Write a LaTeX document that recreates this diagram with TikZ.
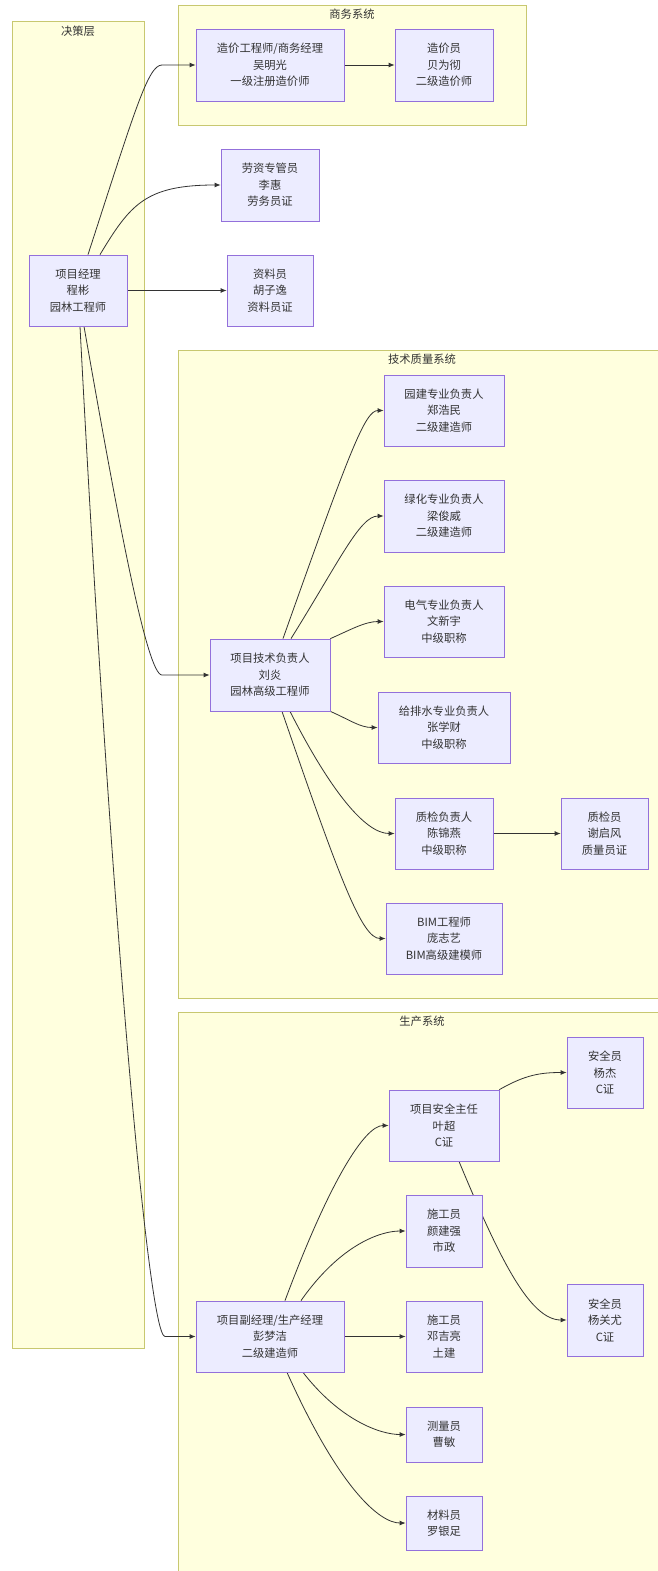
\documentclass[tikz,border=0pt]{standalone}
\usepackage{fontspec}
\newfontfamily\cjk{Noto Sans CJK SC}
\usetikzlibrary{arrows.meta}
\pgfdeclarelayer{bg}
\pgfdeclarelayer{edgelayer}
\pgfsetlayers{bg,edgelayer,main}
\definecolor{clfill}{HTML}{FFFFDE}
\definecolor{clline}{HTML}{C8C870}
\definecolor{nfill}{HTML}{ECECFF}
\definecolor{nline}{HTML}{9370DB}
\definecolor{ink}{HTML}{333333}
\begin{document}
\begin{tikzpicture}[x=1pt,y=-1pt,
 box/.style={draw=nline, fill=nfill, line width=0.8pt, align=center, font=\cjk\fontsize{11.3}{16.5}\selectfont, text=ink, inner sep=0pt},
 cluster/.style={draw=clline, fill=clfill, line width=0.9pt},
 cltitle/.style={font=\cjk\fontsize{11.3}{14}\selectfont, text=ink},
 edge/.style={draw=ink, line width=0.8pt, -{Latex[length=6pt,width=5pt]}}
]
\useasboundingbox (0,0) rectangle (657,1571);

\begin{pgfonlayer}{bg}
\fill[white] (0,0) rectangle (657,1571);
\draw[cluster] (12,21) rectangle (144,1348);
\draw[cluster] (178,5) rectangle (526,125);
\draw[cluster] (178,350) rectangle (662,998);
\draw[cluster] (178,1012) rectangle (662,1580);
\end{pgfonlayer}
\node[cltitle] (t1) at (78,31) {决策层};
\node[cltitle] (t2) at (352,14) {商务系统};
\node[cltitle] (t3) at (422,359) {技术质量系统};
\node[cltitle] (t4) at (422,1021) {生产系统};

\node[box, minimum width=98, minimum height=71] (pm) at (78,290.5) {项目经理\\程彬\\园林工程师};
\node[box, minimum width=148, minimum height=72] (zj) at (270,65) {造价工程师/商务经理\\吴明光\\一级注册造价师};
\node[box, minimum width=98, minimum height=72] (zy) at (444,65) {造价员\\贝为彻\\二级造价师};
\node[box, minimum width=98, minimum height=72] (lz) at (270,185) {劳资专管员\\李惠\\劳务员证};
\node[box, minimum width=86, minimum height=71] (zl) at (270,290.5) {资料员\\胡子逸\\资料员证};

\node[box, minimum width=120, minimum height=71] (yj) at (444,410.5) {园建专业负责人\\郑浩民\\二级建造师};
\node[box, minimum width=120, minimum height=72] (lh) at (444,516) {绿化专业负责人\\梁俊威\\二级建造师};
\node[box, minimum width=120, minimum height=71] (dq) at (444,621.5) {电气专业负责人\\文新宇\\中级职称};
\node[box, minimum width=120, minimum height=72] (js) at (270,675) {项目技术负责人\\刘炎\\园林高级工程师};
\node[box, minimum width=132, minimum height=71] (gps) at (444,727.5) {给排水专业负责人\\张学财\\中级职称};
\node[box, minimum width=98, minimum height=71] (qj) at (444,833.5) {质检负责人\\陈锦燕\\中级职称};
\node[box, minimum width=87, minimum height=71] (qy) at (604.5,833.5) {质检员\\谢启风\\质量员证};
\node[box, minimum width=116, minimum height=71] (bim) at (444,938.5) {BIM工程师\\庞志艺\\BIM高级建模师};

\node[box, minimum width=76, minimum height=71] (yjie) at (605,1072.5) {安全员\\杨杰\\C证};
\node[box, minimum width=110, minimum height=71] (aq) at (444,1125.5) {项目安全主任\\叶超\\C证};
\node[box, minimum width=76, minimum height=72] (yjq) at (444,1231) {施工员\\颜建强\\市政};
\node[box, minimum width=76, minimum height=72] (ygy) at (605,1320) {安全员\\杨关尤\\C证};
\node[box, minimum width=148, minimum height=71] (fj) at (270,1336.5) {项目副经理/生产经理\\彭梦洁\\二级建造师};
\node[box, minimum width=76, minimum height=71] (djl) at (444,1336.5) {施工员\\邓吉亮\\土建};
\node[box, minimum width=76, minimum height=55] (clr) at (444,1434.5) {测量员\\曹敏};
\node[box, minimum width=76, minimum height=54] (cly) at (444,1523) {材料员\\罗银足};

\begin{pgfonlayer}{edgelayer}
\draw[edge] ([xshift=10]pm.north) .. controls (135,110) and (148,65) .. (162,65) -- (zj.west);
\draw[edge] ([xshift=22]pm.north) .. controls (130,205) and (145,185) .. (lz.west);
\draw[edge] (pm.east) -- (zl.west);
\draw[edge] ([xshift=6]pm.south) .. controls (118,520) and (147,675) .. (162,675) -- (js.west);
\draw[edge] ([xshift=2]pm.south) .. controls (110,900) and (148,1336.5) .. (165,1336.5) -- (fj.west);
\draw[edge] (zj.east) -- (zy.west);

\draw[edge] ([xshift=13]js.north) .. controls (350,450) and (365,410.5) .. (yj.west);
\draw[edge] ([xshift=21]js.north) .. controls (340,560) and (360,516) .. (lh.west);
\draw[edge] (js.north east) .. controls (350,630) and (365,621.5) .. (dq.west);
\draw[edge] (js.south east) .. controls (350,720) and (360,727.5) .. (gps.west);
\draw[edge] ([xshift=20]js.south) .. controls (330,790) and (365,833.5) .. (qj.west);
\draw[edge] ([xshift=12]js.south) .. controls (340,880) and (362,938.5) .. (bim.west);
\draw[edge] (qj.east) -- (qy.west);

\draw[edge] ([xshift=15]fj.north) .. controls (330,1180) and (365,1125.5) .. (aq.west);
\draw[edge] ([xshift=31]fj.north) .. controls (340,1245) and (380,1231) .. (yjq.west);
\draw[edge] (fj.east) -- (djl.west);
\draw[edge] ([xshift=33]fj.south) .. controls (340,1420) and (380,1434.5) .. (clr.west);
\draw[edge] ([xshift=17]fj.south) .. controls (340,1490) and (380,1523) .. (cly.west);
\draw[edge] (aq.north east) .. controls (525,1075) and (540,1072.5) .. (yjie.west);
\draw[edge] ([xshift=15]aq.south) .. controls (500,1260) and (530,1320) .. (ygy.west);
\end{pgfonlayer}
\end{tikzpicture}
\end{document}
